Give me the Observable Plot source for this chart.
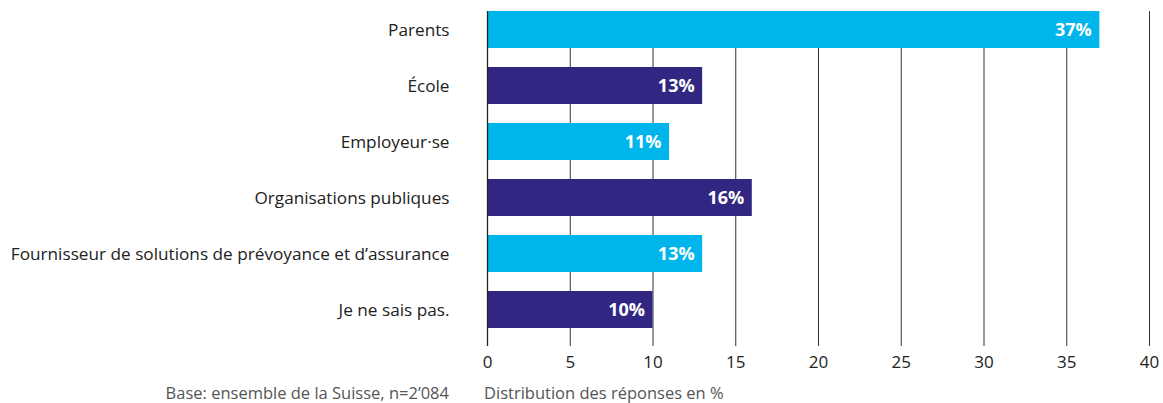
<!DOCTYPE html>
<html>
<head>
<meta charset="utf-8">
<script src="https://cdn.jsdelivr.net/npm/d3@7"></script>
<script src="https://cdn.jsdelivr.net/npm/@observablehq/plot@0.6"></script>
<style>
  body { margin: 0; background: #fff; font-family: "Open Sans", sans-serif; }
  #footer { position: relative; height: 25px; width: 1163px; font-size: 16.5px; color: #555; line-height: 20px; }
  #footer .base { position: absolute; right: 714px; top: 5px; white-space: nowrap; }
  #footer .dist { position: absolute; left: 484px; top: 5px; white-space: nowrap; }
</style>
</head>
<body>
<div id="chart"></div>
<div id="footer"><span class="base"></span><span class="dist"></span></div>
<script>
const categories = [
  "Parents",
  "École",
  "Employeur·se",
  "Organisations publiques",
  "Fournisseur de solutions de prévoyance et d’assurance",
  "Je ne sais pas."
];
const values = [37, 13, 11, 16, 13, 10];
const groups = ["light", "dark", "light", "dark", "light", "dark"];
const xTicks = [0, 5, 10, 15, 20, 25, 30, 35, 40];
const baseNote = "Base: ensemble de la Suisse, n=2’084";
const xTitle = "Distribution des réponses en %";

const data = categories.map((c, i) => ({category: c, value: values[i], group: groups[i]}));

const chart = Plot.plot({
  width: 1163,
  height: 378,
  marginLeft: 487,
  marginRight: 14,
  marginTop: 11,
  marginBottom: 32,
  style: {fontFamily: "'Open Sans', sans-serif", fontSize: "17px", color: "#222", background: "#fff"},
  x: {domain: [0, 40], ticks: xTicks, label: null},
  y: {domain: categories, paddingInner: 0.34, paddingOuter: 0.13, align: 0, label: null},
  color: {domain: ["light", "dark"], range: ["#00b5eb", "#312783"]},
  marks: [
    Plot.gridX(xTicks, {stroke: "#333", strokeOpacity: 1, strokeWidth: 1}),
    Plot.barX(data, {x: "value", y: "category", fill: "group"}),
    Plot.ruleX([0], {stroke: "#222", strokeWidth: 1.3}),
    Plot.text(data, {x: "value", y: "category", text: d => d.value + "%", textAnchor: "end", dx: -8, fill: "white", fontWeight: "bold", fontSize: 18}),
    Plot.axisX(xTicks, {tickSize: 0, tickPadding: 9, fontSize: 17, label: null}),
    Plot.axisY({tickSize: 0, tickPadding: 38, fontSize: 17.2, label: null})
  ]
});
document.getElementById("chart").appendChild(chart);
document.querySelector("#footer .base").textContent = baseNote;
document.querySelector("#footer .dist").textContent = xTitle;
</script>
</body>
</html>
